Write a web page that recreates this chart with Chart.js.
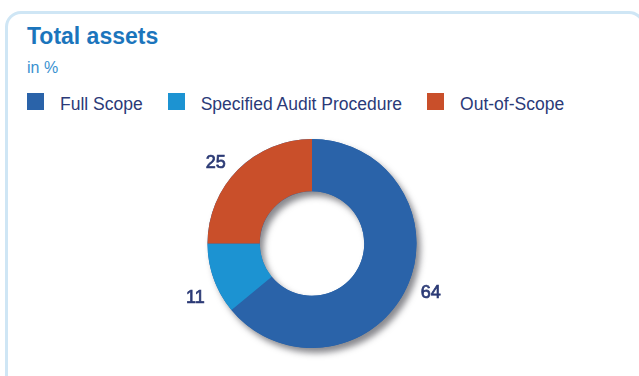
<!DOCTYPE html>
<html>
<head>
<meta charset="utf-8">
<script src="https://cdn.jsdelivr.net/npm/chart.js@4/dist/chart.umd.min.js"></script>
<style>
  html, body { margin: 0; padding: 0; background: #fff; }
  body { width: 639px; height: 376px; position: relative; overflow: hidden; font-family: "Liberation Sans", Arial, Helvetica, sans-serif; }
  .card { position: absolute; left: 5px; top: 11px; width: 640px; height: 380px; border: 3px solid #cfe6f5; border-radius: 16px; box-sizing: border-box; }
  .title { position: absolute; left: 27px; top: 23px; font-size: 23px; font-weight: bold; color: #1b75bc; }
  .sub { position: absolute; left: 27px; top: 59px; font-size: 16px; color: #3a91d0; }
  #legend { position: absolute; left: 27px; top: 91px; display: flex; align-items: center; font-size: 17.5px; color: #2b3a78; }
  #legend .item { display: flex; align-items: center; margin-right: 25px; }
  #legend .box { width: 17px; height: 17px; margin-right: 16px; }
  #legend .txt { position: relative; top: 3px; }
  #wrap { position: absolute; left: 0; top: 0; width: 639px; height: 376px; }
</style>
</head>
<body>
<div class="card"></div>
<div class="title">Total assets</div>
<div class="sub">in %</div>
<div id="legend"></div>
<div id="wrap"><canvas id="graf_ativos"></canvas></div>
<script>
const categorias = ['Full Scope', 'Specified Audit Procedure', 'Out-of-Scope']
const valores = [64, 11, 25]
const cores = ['#2a63a9', '#1c93d2', '#c94f2a']

// legenda em HTML
const legenda = document.getElementById('legend')
for (let i = 0; i < categorias.length; i++) {
    const item = document.createElement('div')
    item.className = 'item'
    item.innerHTML = '<span class="box" style="background:' + cores[i] + '"></span><span class="txt">' + categorias[i] + '</span>'
    legenda.appendChild(item)
}

// sombra do anel inteiro, desenhada uma vez antes das fatias
const sombraAnel = {
    id: 'sombraAnel',
    beforeDatasetsDraw(chart) {
        const arc = chart.getDatasetMeta(0).data[0]
        if (!arc) return
        const ctx = chart.ctx
        ctx.save()
        ctx.shadowColor = 'rgba(40, 40, 50, 0.55)'
        ctx.shadowBlur = 6
        ctx.shadowOffsetX = 4
        ctx.shadowOffsetY = 5
        ctx.beginPath()
        ctx.arc(arc.x, arc.y, arc.outerRadius, 0, Math.PI * 2)
        ctx.arc(arc.x, arc.y, arc.innerRadius, 0, Math.PI * 2, true)
        ctx.fillStyle = cores[0]
        ctx.fill('evenodd')
        ctx.restore()
    }
}

// rótulos de valor fora do anel (um pouco girados no sentido anti-horário)
const rotulos = {
    id: 'rotulos',
    afterDatasetsDraw(chart) {
        const ctx = chart.ctx
        const meta = chart.getDatasetMeta(0)
        ctx.save()
        ctx.font = '18px "Liberation Sans", Arial, sans-serif'
        ctx.fillStyle = '#2b3a75'
        ctx.strokeStyle = '#2b3a75'
        ctx.lineWidth = 0.7
        ctx.textAlign = 'center'
        ctx.textBaseline = 'middle'
        meta.data.forEach((arc, i) => {
            const meio = (arc.startAngle + arc.endAngle) / 2 - 4 * Math.PI / 180
            const r = arc.outerRadius + 23
            const x = arc.x + Math.cos(meio) * r
            const y = arc.y + Math.sin(meio) * r + 3
            ctx.fillText(String(valores[i]), x, y)
            ctx.strokeText(String(valores[i]), x, y)
        })
        ctx.restore()
    }
}

const ctx = document.getElementById('graf_ativos').getContext('2d')
const chart = new Chart(ctx, {
    type: 'doughnut',
    data: {
        labels: categorias,
        datasets: [{
            data: valores,
            backgroundColor: cores,
            borderWidth: 0,
            hoverOffset: 0
        }]
    },
    options: {
        responsive: true,
        maintainAspectRatio: false,
        animation: false,
        cutout: '50%',
        layout: {
            padding: { left: 150, right: 165, top: 139, bottom: 28 }
        },
        plugins: {
            legend: { display: false },
            tooltip: { enabled: false }
        }
    },
    plugins: [sombraAnel, rotulos]
})
</script>
</body>
</html>
